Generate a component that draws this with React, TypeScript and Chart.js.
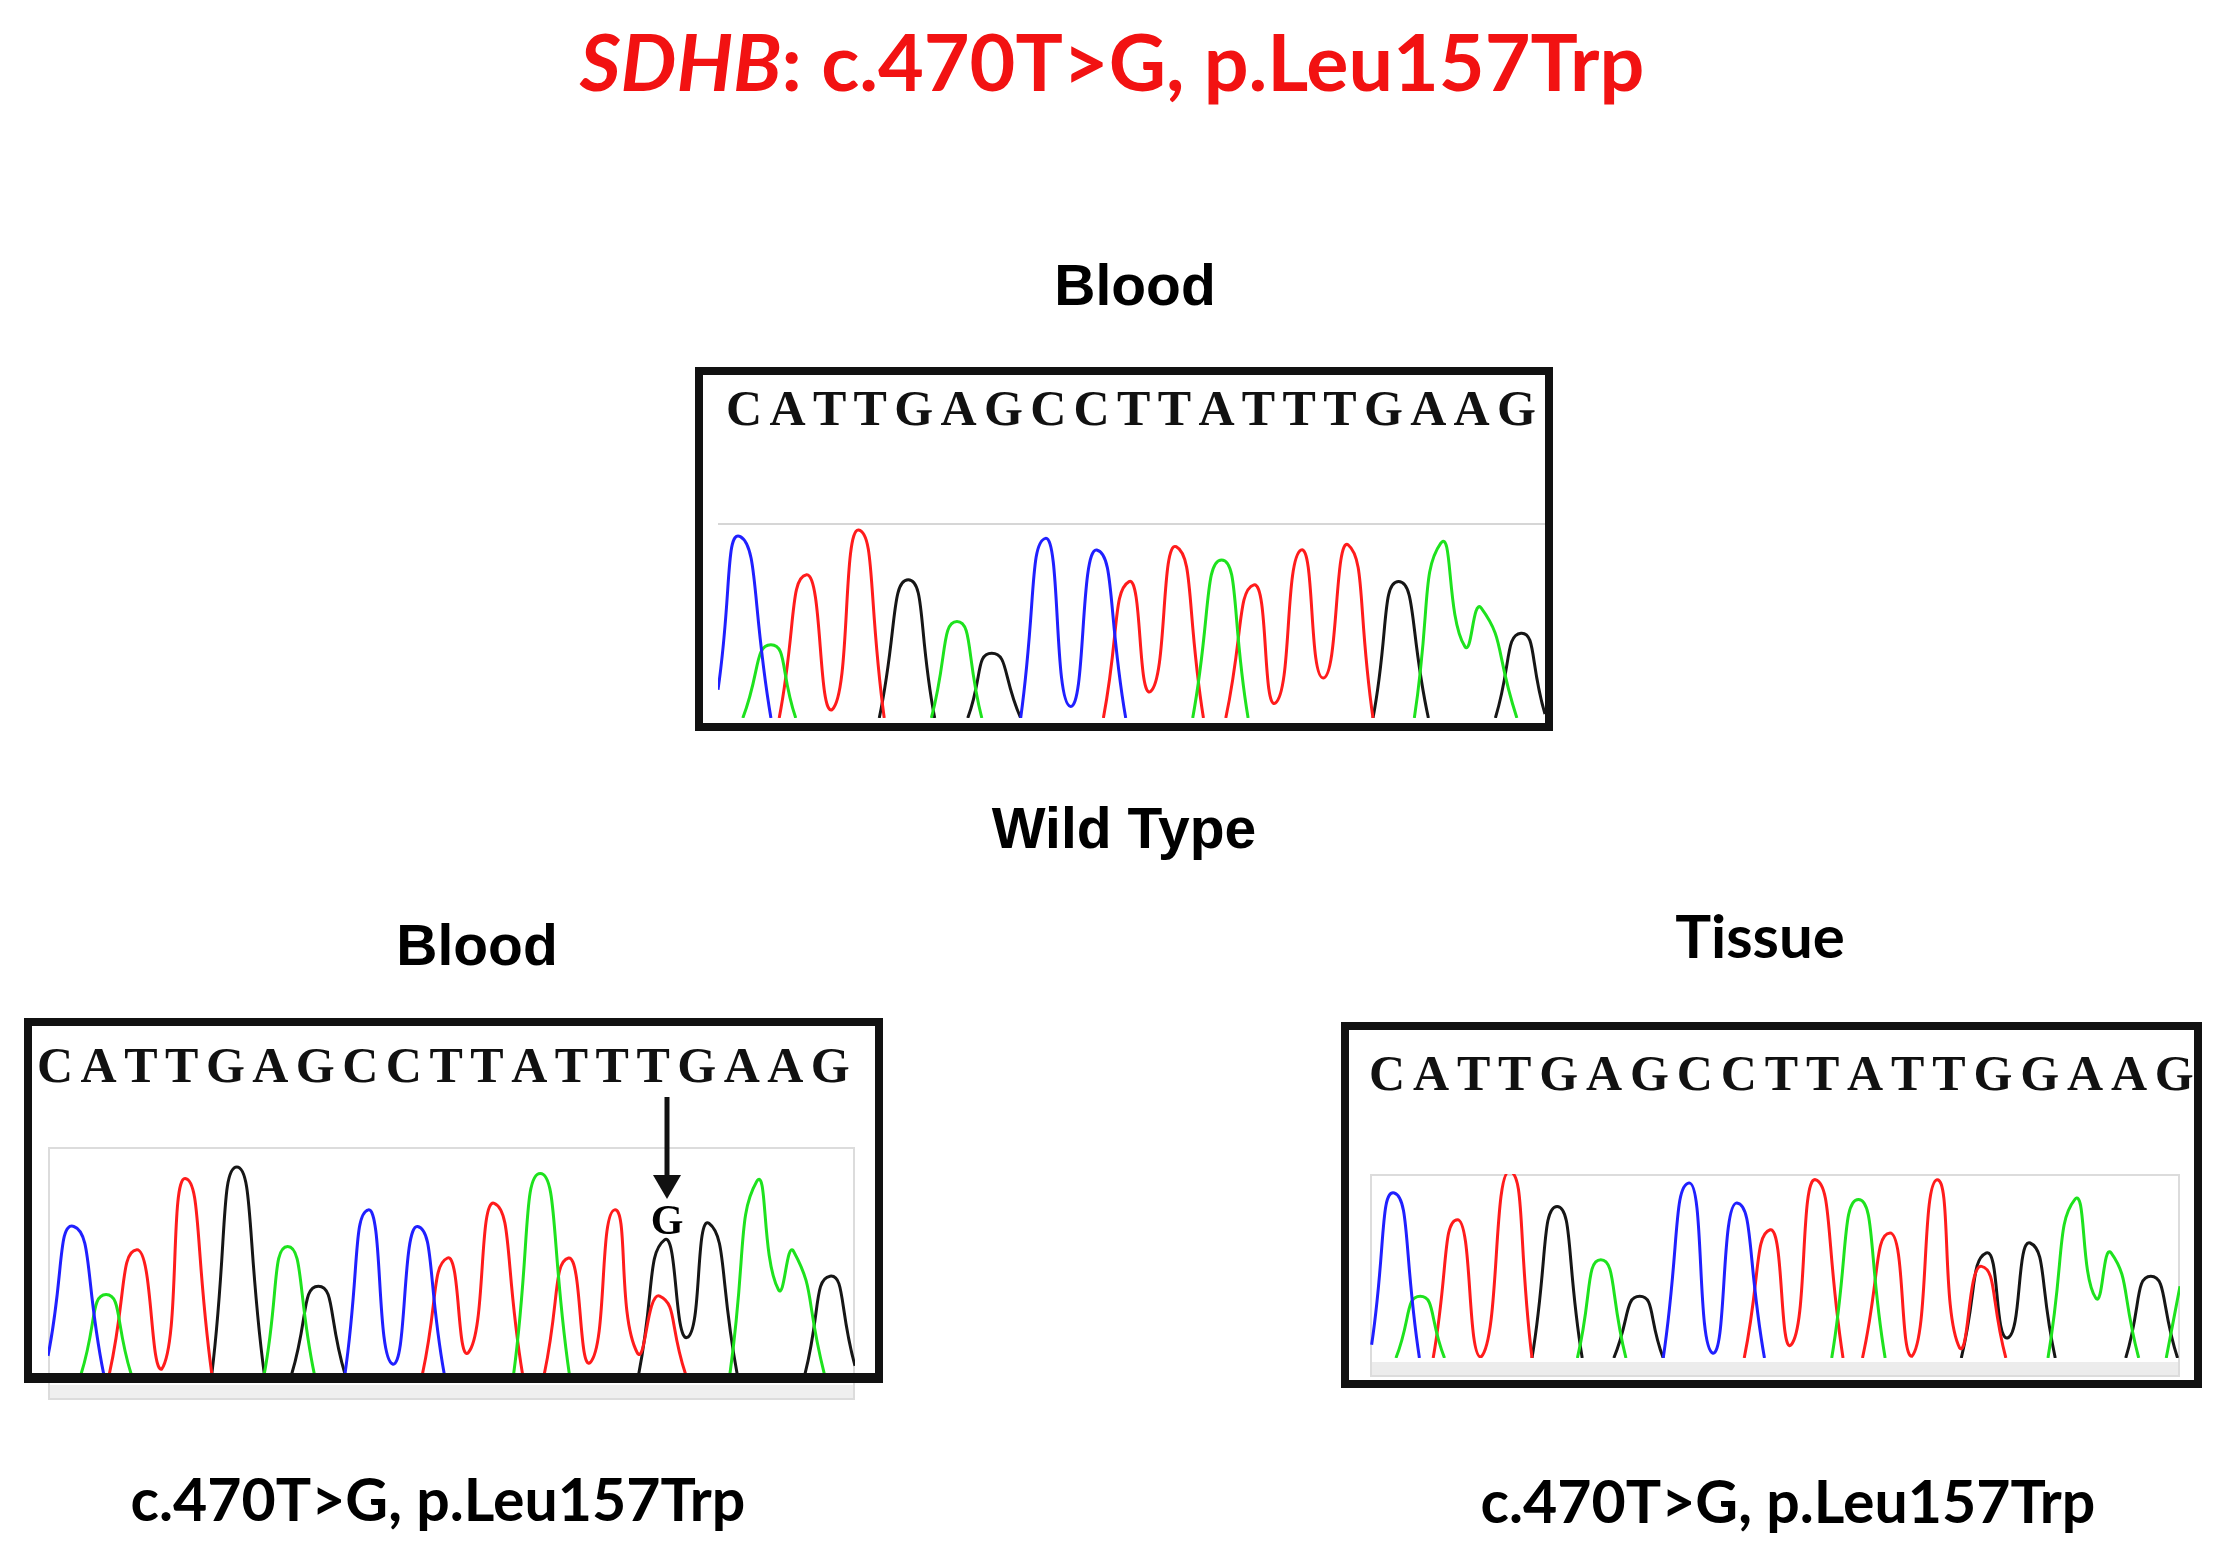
import React, { useEffect, useRef } from 'react';
import { Chart, registerables } from 'chart.js';

Chart.register(...registerables);

// Base calls printed above each trace
const wildTypeCalls = ['C', 'A', 'T', 'T', 'G', 'A', 'G', 'C', 'C', 'T', 'T', 'A', 'T', 'T', 'T', 'G', 'A', 'A', 'G'];
const bloodCalls = ['C', 'A', 'T', 'T', 'G', 'A', 'G', 'C', 'C', 'T', 'T', 'A', 'T', 'T', 'T', 'G', 'A', 'A', 'G'];
const tissueCalls = ['C', 'A', 'T', 'T', 'G', 'A', 'G', 'C', 'C', 'T', 'T', 'A', 'T', 'T', 'G', 'G', 'A', 'A', 'G'];

// Trace groups per channel: [scan position (0-100), relative signal (0-100)]
// Wild type (blood)
const wildTypeA = [
  [[3.0, 0], [6.4, 37.7], [9.4, 0]],
  [[25.8, 0], [28.9, 49.7], [31.9, 0]],
  [[57.4, 0], [60.9, 81.5], [64.1, 0]],
  [[84.2, 0], [87.4, 90.1], [90.3, 36.9], [92.3, 56.6], [96.6, 0]],
];
const wildTypeC = [
  [[0, 14.6], [2.7, 93.5], [6.4, 0]],
  [[36.6, 0], [39.6, 92.6], [42.6, 6], [45.8, 86.6], [49.3, 0]],
];
const wildTypeG = [
  [[19.5, 0], [23.0, 71.2], [26.2, 0]],
  [[30.2, 0], [33.1, 33.4], [36.6, 0]],
  [[79.2, 0], [82.3, 70.3], [85.9, 0]],
  [[94.0, 0], [97.1, 43.7], [100, 2]],
];
const wildTypeT = [
  [[7.4, 0], [10.7, 73.8], [13.8, 4.3], [17.0, 96.9], [20.1, 0]],
  [[46.6, 0], [49.7, 70.3], [52.3, 13.7], [55.4, 88.3], [58.7, 0]],
  [[61.4, 0], [64.8, 68.6], [67.4, 7.7], [70.5, 86.6], [73.2, 20.6], [76.2, 89.2], [79.2, 0]],
];

// c.470T>G (blood)
const bloodA = [
  [[4.1, 0], [7.2, 35.0], [10.3, 0]],
  [[26.8, 0], [29.7, 56.2], [33.0, 0]],
  [[57.7, 0], [61.0, 88.3], [64.6, 0]],
  [[84.5, 0], [87.8, 84.7], [90.5, 37.2], [92.4, 54.0], [96.2, 0]],
];
const bloodC = [
  [[0, 8.0], [3.2, 65.0], [6.9, 0]],
  [[36.8, 0], [39.7, 72.3], [42.7, 4.4], [45.8, 65.0], [49.1, 0]],
];
const bloodG = [
  [[20.3, 0], [23.4, 91.2], [26.8, 0]],
  [[30.2, 0], [33.5, 38.7], [36.8, 0]],
  [[73.2, 0], [76.4, 59.1], [79.2, 16.1], [81.9, 66.4], [85.4, 0]],
  [[93.8, 0], [96.9, 43.1], [100, 3.6]],
];
const bloodT = [
  [[7.6, 0], [11.0, 54.7], [14.1, 2.2], [17.0, 86.1], [20.3, 0]],
  [[46.4, 0], [49.5, 51.1], [52.1, 9.5], [55.3, 75.2], [58.8, 0]],
  [[61.5, 0], [64.5, 51.1], [67.2, 5.1], [70.2, 72.3], [73.0, 9.5], [75.8, 34.3], [79.0, 0]],
];

// c.470T>G (tissue)
const tissueA = [
  [[3.2, 0], [6.2, 33.5], [9.2, 0]],
  [[25.6, 0], [28.5, 53.4], [31.6, 0]],
  [[57.0, 0], [60.3, 86.1], [63.6, 0]],
  [[83.7, 0], [87.0, 86.1], [89.6, 32.6], [91.5, 57.1], [94.9, 0]],
  [[98.3, 0], [100, 39.0]],
];
const tissueC = [
  [[0.2, 7.2], [3.0, 89.7], [6.1, 0]],
  [[36.2, 0], [39.4, 95.1], [42.3, 2.7], [45.3, 84.2], [48.7, 0]],
];
const tissueG = [
  [[20.0, 0], [23.1, 82.4], [26.2, 0]],
  [[30.1, 0], [33.3, 33.5], [36.2, 0]],
  [[73.0, 0], [76.1, 57.1], [78.7, 10.9], [81.5, 62.5], [84.6, 0]],
  [[93.3, 0], [96.4, 44.4], [99.7, 0]],
];
const tissueT = [
  [[7.8, 0], [10.8, 75.2], [13.7, 0.5], [17.2, 101.4], [20.0, 0]],
  [[46.2, 0], [49.4, 69.7], [52.0, 7.2], [55.0, 96.9], [58.4, 0]],
  [[60.8, 0], [64.2, 67.9], [66.9, 0.9], [70.0, 96.9], [72.8, 5.4], [75.5, 49.8], [78.5, 0]],
];

const CHANNEL_COLORS = { A: '#1ee21e', C: '#2020ff', G: '#161616', T: '#ff1c1c' };

type Groups = number[][][];

// Flatten peak groups into one line series, with null gaps between groups
function toSeries(groups: Groups) {
  const out: { x: number; y: number | null }[] = [];
  groups.forEach((g, gi) => {
    if (gi > 0) out.push({ x: g[0][0], y: null });
    g.forEach(([x, y]) => out.push({ x, y }));
  });
  return out;
}

function Trace({ left, top, width, height, channels }: {
  left: number; top: number; width: number; height: number;
  channels: { A: Groups; C: Groups; G: Groups; T: Groups };
}) {
  const ref = useRef<HTMLCanvasElement | null>(null);
  useEffect(() => {
    if (!ref.current) return;
    const order: ('C' | 'A' | 'T' | 'G')[] = ['C', 'A', 'T', 'G'];
    const chart = new Chart(ref.current, {
      type: 'line',
      data: {
        datasets: order.map((k) => ({
          label: k,
          data: toSeries(channels[k]),
          borderColor: CHANNEL_COLORS[k],
          borderWidth: 3,
          pointRadius: 0,
          tension: 0.62,
          fill: false,
          spanGaps: false,
        })),
      },
      options: {
        responsive: false,
        animation: false,
        events: [],
        layout: { padding: 0 },
        plugins: { legend: { display: false }, tooltip: { enabled: false } },
        scales: {
          x: { type: 'linear', min: 0, max: 100, display: false },
          y: { type: 'linear', min: 0, max: 100, display: false },
        },
      },
    });
    return () => chart.destroy();
  }, []);
  return (
    <canvas
      ref={ref}
      width={width}
      height={height}
      style={{ position: 'absolute', left, top, width, height }}
    />
  );
}

const SANS = '"Liberation Sans", Arial, sans-serif';
const LATO = 'Lato, "Open Sans", sans-serif';
const SERIF = '"Liberation Serif", "Times New Roman", serif';
const BASE = { [SANS]: 0.8465, [LATO]: 0.887, [SERIF]: 0.8375 } as Record<string, number>;

function Label({ cx, baseline, size, family, color = '#000', children, italic = false }: any) {
  return (
    <div
      style={{
        position: 'absolute',
        left: cx,
        top: baseline - BASE[family] * size,
        transform: 'translateX(-50%)',
        fontFamily: family,
        fontSize: size,
        lineHeight: `${size}px`,
        fontWeight: 700,
        fontStyle: italic ? 'italic' : 'normal',
        color,
        whiteSpace: 'nowrap',
      }}
    >
      {children}
    </div>
  );
}

function Calls({ calls, x0, x1, baseline }: { calls: string[]; x0: number; x1: number; baseline: number }) {
  const size = 50;
  return (
    <div
      style={{
        position: 'absolute',
        left: x0,
        width: x1 - x0,
        top: baseline - BASE[SERIF] * size,
        display: 'flex',
        justifyContent: 'space-between',
        fontFamily: SERIF,
        fontWeight: 700,
        fontSize: size,
        lineHeight: `${size}px`,
        color: '#111',
      }}
    >
      {calls.map((c, i) => (
        <span key={i}>{c}</span>
      ))}
    </div>
  );
}

function Frame({ left, top, width, height, bottom = 8 }: any) {
  return (
    <div
      style={{
        position: 'absolute',
        left,
        top,
        width,
        height,
        boxSizing: 'border-box',
        borderStyle: 'solid',
        borderColor: '#111',
        borderWidth: `8px 8px ${bottom}px 8px`,
      }}
    />
  );
}

export default function App() {
  return (
    <div style={{ position: 'absolute', left: 0, top: 0, width: 2230, height: 1561, background: '#fff', overflow: 'hidden' }}>
      <Label cx={1112} baseline={91} size={79} family={LATO} color="#f21212">
        <span style={{ fontStyle: 'italic' }}>SDHB</span>: c.470T&gt;G, p.Leu157Trp
      </Label>

      {/* Wild type */}
      <Label cx={1135} baseline={305} size={57} family={SANS}>Blood</Label>
      <div style={{ position: 'absolute', left: 718, top: 523, width: 827, height: 2, background: '#d6d6d6' }} />
      <Trace left={718} top={524} width={827} height={194} channels={{ A: wildTypeA, C: wildTypeC, G: wildTypeG, T: wildTypeT }} />
      <Frame left={695} top={367} width={858} height={364} />
      <Calls calls={wildTypeCalls} x0={726} x1={1536} baseline={425} />
      <Label cx={1124} baseline={848} size={57} family={SANS}>Wild Type</Label>

      {/* Mutant, blood */}
      <Label cx={477} baseline={965} size={57} family={SANS}>Blood</Label>
      <div style={{ position: 'absolute', left: 48, top: 1147, width: 807, height: 253, boxSizing: 'border-box', border: '2px solid #dcdcdc' }} />
      <div style={{ position: 'absolute', left: 50, top: 1385, width: 803, height: 13, background: '#efefef' }} />
      <Trace left={48} top={1147} width={807} height={227} channels={{ A: bloodA, C: bloodC, G: bloodG, T: bloodT }} />
      <Frame left={24} top={1018} width={859} height={365} bottom={10} />
      <Calls calls={bloodCalls} x0={37} x1={850} baseline={1082} />
      <svg style={{ position: 'absolute', left: 0, top: 0 }} width={2230} height={1561}>
        <line x1={667} y1={1097} x2={667} y2={1180} stroke="#111" strokeWidth={5} />
        <polygon points="653,1175 681,1175 667,1199" fill="#111" />
      </svg>
      <Label cx={667} baseline={1234} size={42} family={SERIF}>G</Label>
      <Label cx={438} baseline={1521} size={59} family={LATO}>c.470T&gt;G, p.Leu157Trp</Label>

      {/* Mutant, tissue */}
      <Label cx={1760} baseline={958} size={60} family={LATO}>Tissue</Label>
      <div style={{ position: 'absolute', left: 1370, top: 1174, width: 810, height: 203, boxSizing: 'border-box', border: '2px solid #dcdcdc' }} />
      <div style={{ position: 'absolute', left: 1372, top: 1362, width: 806, height: 13, background: '#ececec' }} />
      <Trace left={1370} top={1174} width={810} height={184} channels={{ A: tissueA, C: tissueC, G: tissueG, T: tissueT }} />
      <Frame left={1341} top={1022} width={861} height={366} />
      <Calls calls={tissueCalls} x0={1369} x1={2194} baseline={1090} />
      <Label cx={1788} baseline={1523} size={59} family={LATO}>c.470T&gt;G, p.Leu157Trp</Label>
    </div>
  );
}
